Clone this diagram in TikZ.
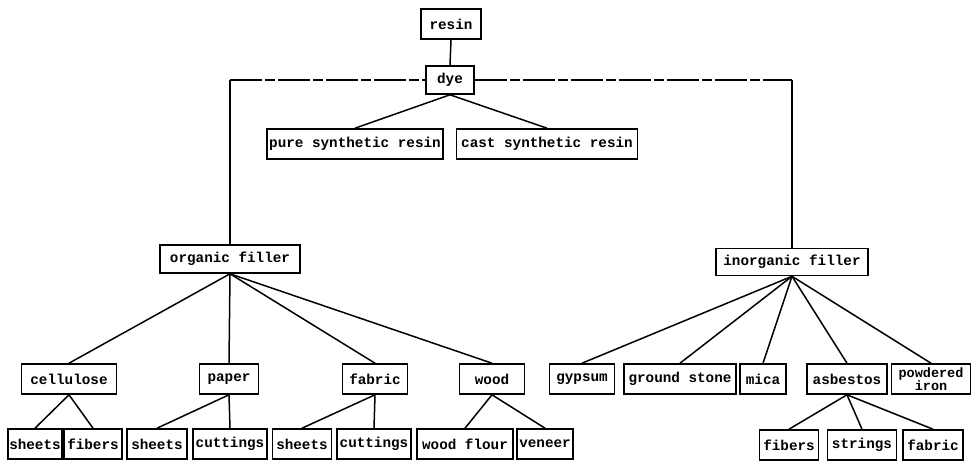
\documentclass[tikz,border=0pt]{standalone}
\usepackage{fontspec}
\setmonofont{Liberation Mono}
\usetikzlibrary{positioning}

\tikzset{
    box/.style={draw, line width=1.6pt, minimum height=30pt, inner sep=1pt,
        font=\ttfamily\bfseries\fontsize{14.3}{12}\selectfont},
    link/.style={draw, line width=1.5pt},
    dyeline/.style={draw, line width=1.5pt, dash pattern=on 32pt off 3pt on 10pt off 3pt}
}

\begin{document}
\begin{tikzpicture}[x=1pt, y=-1pt]
    \useasboundingbox (0,0) rectangle (972,463);
    % top
    \node[box, minimum width=60](resin)                       at (451,24)  {resin};
    \node[box, minimum width=48, minimum height=28](dye)      at (450,80)  {dye};
    \node[box, minimum width=176](pure)                       at (355,144) {pure synthetic resin};
    \node[box, minimum width=181](cast)                       at (547,144) {cast synthetic resin};
    % fillers
    \node[box, minimum width=140, minimum height=28](org)     at (230,259) {organic filler};
    \node[box, minimum width=152, minimum height=27](inorg)   at (792,262) {inorganic filler};
    % organic
    \node[box, minimum width=95](cellulose)                   at (69,379)  {cellulose};
    \node[box, minimum width=59](paper)                       at (229,379) {paper};
    \node[box, minimum width=65](fabric)                      at (375,379) {fabric};
    \node[box, minimum width=65](wood)                        at (492,379) {wood};
    \node[box, minimum width=50](c_sheets)                    at (35,444)  {sheets};
    \node[box, minimum width=58](c_fibers)                    at (93,444)  {fibers};
    \node[box, minimum width=60](p_sheets)                    at (157,444) {sheets};
    \node[box, minimum width=74](p_cuttings)                  at (230,444) {cuttings};
    \node[box, minimum width=59](f_sheets)                    at (302,444) {sheets};
    \node[box, minimum width=74](f_cuttings)                  at (374,444) {cuttings};
    \node[box, minimum width=96](w_flour)                     at (465,444) {wood flour};
    \node[box, minimum width=56](w_veneer)                    at (545,444) {veneer};
    % inorganic
    \node[box, minimum width=65](gypsum)                      at (582,379) {gypsum};
    \node[box, minimum width=112](stone)                      at (680,379) {ground stone};
    \node[box, minimum width=46](mica)                        at (763,379) {mica};
    \node[box, minimum width=80](asbestos)                    at (847,379) {asbestos};
    \node[box, minimum width=79, align=center,
        font=\ttfamily\bfseries\fontsize{13.5}{10}\selectfont](iron) at (931,379) {powdered\\iron};
    \node[box, minimum width=59](a_fibers)                    at (789,445) {fibers};
    \node[box, minimum width=69](a_strings)                   at (862,445) {strings};
    \node[box, minimum width=60](a_fabric)                    at (933,445) {fabric};

    \coordinate (dye_l) at (org.north |- dye.west);
    \coordinate (dye_r) at (inorg.north |- dye.east);
    \path[link] (org.north) -- (dye_l);
    \path[dyeline] (dye_l) -- (dye.west);
    \path[dyeline] (dye.east) -- (dye_r);
    \path[link] (dye_r) -- (inorg.north);

    \path[every edge/.style={link}]
        (resin.south)
            edge (dye.north)
        (dye.south)
            edge (pure.north)
            edge (cast.north)
        (org.south)
            edge (cellulose.north)
            edge (paper.north)
            edge (fabric.north)
            edge (wood.north)
        (cellulose.south)
            edge (c_sheets.north)
            edge (c_fibers.north)
        (paper.south)
            edge (p_sheets.north)
            edge (p_cuttings.north)
        (fabric.south)
            edge (f_sheets.north)
            edge (f_cuttings.north)
        (wood.south)
            edge (w_flour.north)
            edge (w_veneer.north)
        (inorg.south)
            edge (gypsum.north)
            edge (stone.north)
            edge (mica.north)
            edge (asbestos.north)
            edge (iron.north)
        (asbestos.south)
            edge (a_fibers.north)
            edge (a_strings.north)
            edge (a_fabric.north)
        ;
\end{tikzpicture}
\end{document}
